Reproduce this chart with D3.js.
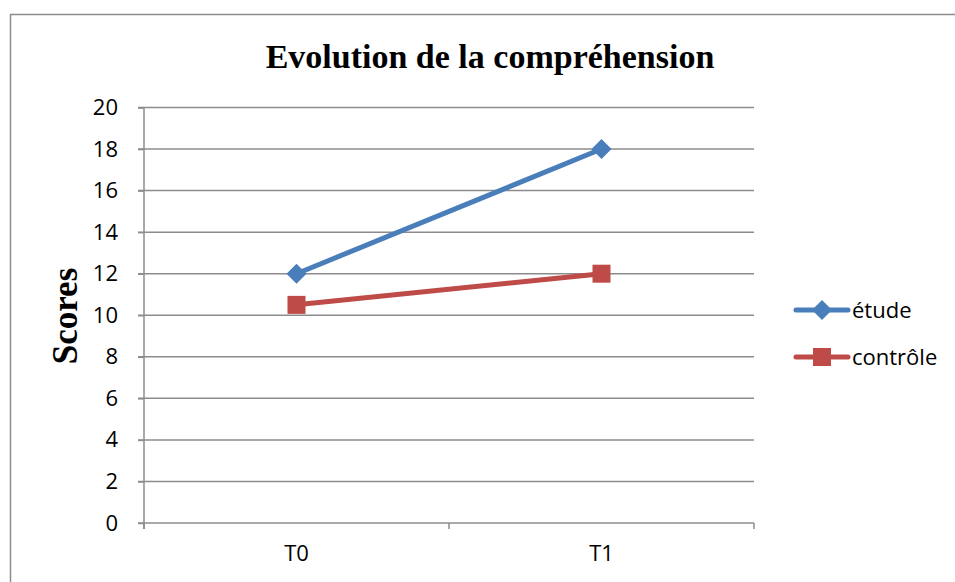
<html>
<head>
<script src="https://cdnjs.cloudflare.com/ajax/libs/d3/7.8.5/d3.min.js"></script>
<style>
  body { margin: 0; background: #fff; }
  svg text { font-family: "Open Sans", "Liberation Sans", sans-serif; }
</style>
</head>
<body>
<div id="viz"></div>
<script>
var categories = ["T0", "T1"];
var etude = [12, 18];
var controle = [10.5, 12];
var seriesNames = ["étude", "contrôle"];
var yTicks = [0, 2, 4, 6, 8, 10, 12, 14, 16, 18, 20];

var W = 955, H = 582;
var pLeft = 144, pRight = 754, pTop = 107.5, pBottom = 523;

var svg = d3.select("#viz").append("svg")
    .attr("width", W).attr("height", H);

// outer frame
svg.append("rect")
    .attr("x", 10.5).attr("y", 14.5)
    .attr("width", 960).attr("height", 600)
    .style("fill", "none").style("stroke", "#8c8c8c").style("stroke-width", 1.5);

var x = d3.scaleBand().domain(categories).range([pLeft, pRight]);
var y = d3.scaleLinear().domain([0, 20]).range([pBottom, pTop]);

// gridlines
svg.append("g").selectAll("line").data(yTicks).enter().append("line")
    .attr("x1", pLeft - 6).attr("x2", pRight)
    .attr("y1", d => y(d)).attr("y2", d => y(d))
    .style("stroke", "#8c8c8c").style("stroke-width", 1.5);

// y axis
var yAxis = svg.append("g").attr("transform", "translate(" + pLeft + ",0)")
    .call(d3.axisLeft(y).tickValues(yTicks).tickSize(6).tickPadding(20));
yAxis.select(".domain").remove();
yAxis.selectAll("line").style("stroke", "#8c8c8c").style("stroke-width", 1.5);
yAxis.selectAll("text").style("font-size", "22px").style("fill", "#000");
svg.append("line").attr("x1", pLeft).attr("x2", pLeft).attr("y1", pTop).attr("y2", pBottom + 6)
    .style("stroke", "#8c8c8c").style("stroke-width", 1.5);

// x axis
var xAxis = svg.append("g").attr("transform", "translate(0," + pBottom + ")")
    .call(d3.axisBottom(x).tickSize(0).tickPadding(22));
xAxis.select(".domain").remove();
xAxis.selectAll("text").style("font-size", "22px").style("fill", "#000");
var xTicks = [pLeft, pLeft + x.step(), pRight];
svg.append("g").selectAll("line").data(xTicks).enter().append("line")
    .attr("x1", d => d).attr("x2", d => d).attr("y1", pBottom).attr("y2", pBottom + 6)
    .style("stroke", "#8c8c8c").style("stroke-width", 1.5);

var colors = ["#4a7ebb", "#be4b48"];
var data = [etude, controle];
var line = d3.line().x((d, i) => x(categories[i]) + x.bandwidth() / 2).y(d => y(d));

function marker(g, i, cx, cy) {
  if (i == 0) {
    g.append("path")
      .attr("d", "M" + cx + "," + (cy - 10) + "L" + (cx + 10) + "," + cy + "L" + cx + "," + (cy + 10) + "L" + (cx - 10) + "," + cy + "Z")
      .style("fill", colors[0]);
  } else {
    g.append("rect").attr("x", cx - 9).attr("y", cy - 9).attr("width", 18).attr("height", 18)
      .style("fill", colors[1]);
  }
}

data.forEach(function(s, i) {
  var g = svg.append("g");
  g.append("path").attr("d", line(s))
    .style("fill", "none").style("stroke", colors[i]).style("stroke-width", 5);
  s.forEach(function(v, j) {
    marker(g, i, x(categories[j]) + x.bandwidth() / 2, y(v));
  });
});

// legend
seriesNames.forEach(function(n, i) {
  var ly = 310 + i * 47;
  var g = svg.append("g");
  g.append("line").attr("x1", 796).attr("x2", 848).attr("y1", ly).attr("y2", ly)
    .style("stroke", colors[i]).style("stroke-width", 5).style("stroke-linecap", "round");
  marker(g, i, 822, ly);
  g.append("text").attr("x", 852).attr("y", ly + 8).text(n)
    .style("font-size", "22px").style("fill", "#000");
});

// title
svg.append("text").attr("x", 490).attr("y", 68).attr("text-anchor", "middle")
  .text("Evolution de la compréhension")
  .style("font-family", "'Liberation Serif', serif").style("font-weight", "bold")
  .style("font-size", "34px");

svg.append("text").attr("transform", "translate(77,316) rotate(-90)").attr("text-anchor", "middle")
  .text("Scores")
  .style("font-family", "'Liberation Serif', serif").style("font-weight", "bold")
  .style("font-size", "35px");
</script>
</body>
</html>
